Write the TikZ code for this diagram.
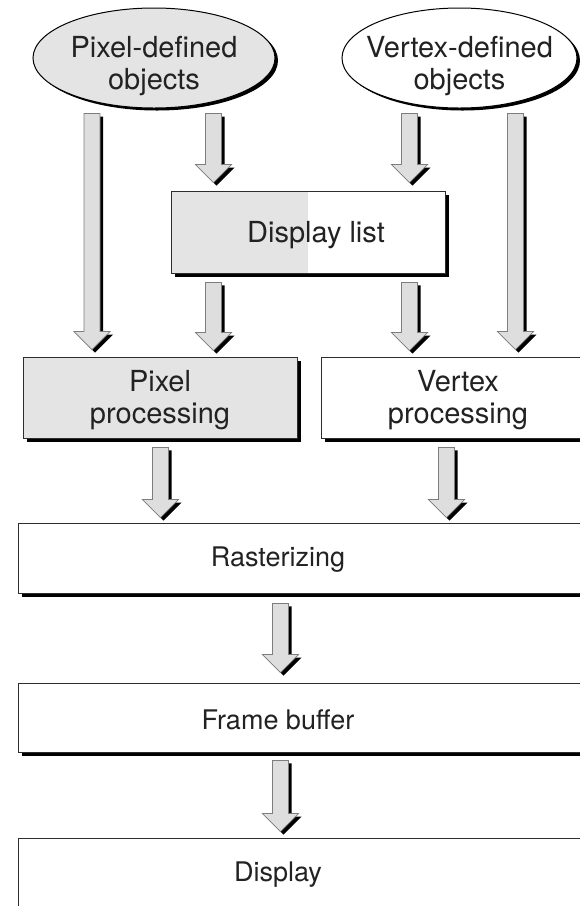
\documentclass[tikz,border=0pt]{standalone}
\usepackage{fontspec}
\setmainfont{TeX Gyre Heros}
\usetikzlibrary{shapes.geometric,shadows,calc}
\definecolor{boxgray}{RGB}{228,228,228}
\definecolor{arrowgray}{RGB}{222,222,222}
\definecolor{edgegray}{RGB}{45,45,45}
\definecolor{arrowedge}{RGB}{125,125,125}
\definecolor{textgray}{RGB}{34,34,34}
\def\asw{8pt}\def\ahw{18pt}\def\ahl{18pt}\def\asd{3pt}
\newcommand\blockarrow[2]{%
  \fill[black] let \p1=(#1), \p2=(#2) in
    ({\x1-\asw+\asd},{\y1-\asd}) -- ({\x1+\asw+\asd},{\y1-\asd}) --
    ({\x1+\asw+\asd},{\y2+\ahl-\asd}) -- ({\x1+\ahw+\asd},{\y2+\ahl-\asd}) --
    ({\x1+\asd},{\y2-\asd}) -- ({\x1-\ahw+\asd},{\y2+\ahl-\asd}) --
    ({\x1-\asw+\asd},{\y2+\ahl-\asd}) -- cycle;
  \filldraw[arrowbody] let \p1=(#1), \p2=(#2) in
    ({\x1-\asw},{\y1}) -- ({\x1+\asw},{\y1}) --
    ({\x1+\asw},{\y2+\ahl}) -- ({\x1+\ahw},{\y2+\ahl}) --
    ({\x1},{\y2}) -- ({\x1-\ahw},{\y2+\ahl}) --
    ({\x1-\asw},{\y2+\ahl}) -- cycle;
}
\begin{document}
\begin{tikzpicture}[x=1pt,y=-1pt,
  arrowbody/.style={fill=arrowgray,draw=arrowedge,line width=0.7pt,line join=miter},
  boxbase/.style={rectangle,inner sep=0pt,draw=edgegray,line width=0.9pt,
    drop shadow={shadow xshift=3.5pt,shadow yshift=-3.5pt,opacity=1,fill=black}},
  graybox/.style={boxbase,fill=boxgray},
  whitebox/.style={boxbase,fill=white},
  objell/.style={ellipse,inner sep=0pt,draw=black,line width=1pt,
    drop shadow={shadow xshift=3pt,shadow yshift=-2.5pt,opacity=1,fill=black}},
  bigtxt/.style={text=textgray,align=center,inner sep=0pt,font=\fontsize{29}{32.5}\selectfont},
  smalltxt/.style={text=textgray,align=center,inner sep=0pt,font=\fontsize{27}{31}\selectfont}]
\useasboundingbox (0,0) rectangle (580,906);
\clip (0,0) rectangle (580,906);
\fill[white] (0,0) rectangle (580,906);

% source objects
\node[objell,fill=boxgray,minimum width=242pt,minimum height=100pt] (pixobj) at (154,58) {};
\node[objell,fill=white,minimum width=235pt,minimum height=100pt] (vtxobj) at (459.5,58) {};
\node[bigtxt] (pixobjtxt) at (154,66) {Pixel-defined\\objects};
\node[bigtxt] (vtxobjtxt) at (459.5,66) {Vertex-defined\\objects};

% display list (half gray)
\node[whitebox,minimum width=274pt,minimum height=82pt,
  path picture={\fill[boxgray] (path picture bounding box.south west) rectangle (path picture bounding box.north);}]
  (dlist) at (308,232) {};
\node[bigtxt] (dlisttxt) at (316,235.5) {Display list};

% processing boxes
\node[graybox,minimum width=274pt,minimum height=81pt] (pixbox) at (160,397.5) {};
\node[bigtxt] (pixboxtxt) at (160,400) {Pixel\\processing};
\node[whitebox,minimum width=274pt,minimum height=81pt] (vtxbox) at (458,397.5) {};
\node[bigtxt] (vtxboxtxt) at (458,400) {Vertex\\processing};

% lower chain
\node[whitebox,minimum width=602pt,minimum height=70pt] (raster) at (319,558) {};
\node[smalltxt] (rastertxt) at (278,559.5) {Rasterizing};
\node[whitebox,minimum width=602pt,minimum height=69pt] (frame) at (319,717.5) {};
\node[smalltxt] (frametxt) at (278,719.5) {Frame buffer};
\node[whitebox,minimum width=602pt,minimum height=69pt] (display) at (319,872.5) {};
\node[smalltxt] (displaytxt) at (278,874.5) {Display};

% block arrows
\blockarrow{[yshift=-5pt]pixobj.south -| 92,0}{[yshift=7pt]pixbox.north -| 92,0}
\blockarrow{[yshift=-5pt]pixobj.south -| 213.5,0}{[yshift=8pt]dlist.north -| 213.5,0}
\blockarrow{[yshift=-5pt]vtxobj.south -| 409.5,0}{[yshift=8pt]dlist.north -| 409.5,0}
\blockarrow{[yshift=-5pt]vtxobj.south -| 515.5,0}{[yshift=7pt]vtxbox.north -| 515.5,0}
\blockarrow{[yshift=-9pt]dlist.south -| 213.5,0}{[yshift=6pt]pixbox.north -| 213.5,0}
\blockarrow{[yshift=-9pt]dlist.south -| 409.5,0}{[yshift=6pt]vtxbox.north -| 409.5,0}
\blockarrow{[yshift=-9pt]pixbox.south -| 160.5,0}{[yshift=5pt]raster.north -| 160.5,0}
\blockarrow{[yshift=-9pt]vtxbox.south -| 446.5,0}{[yshift=5pt]raster.north -| 446.5,0}
\blockarrow{[yshift=-10pt]raster.south -| 280.5,0}{[yshift=10pt]frame.north -| 280.5,0}
\blockarrow{[yshift=-8pt]frame.south -| 280.5,0}{[yshift=6pt]display.north -| 280.5,0}
\end{tikzpicture}
\end{document}
